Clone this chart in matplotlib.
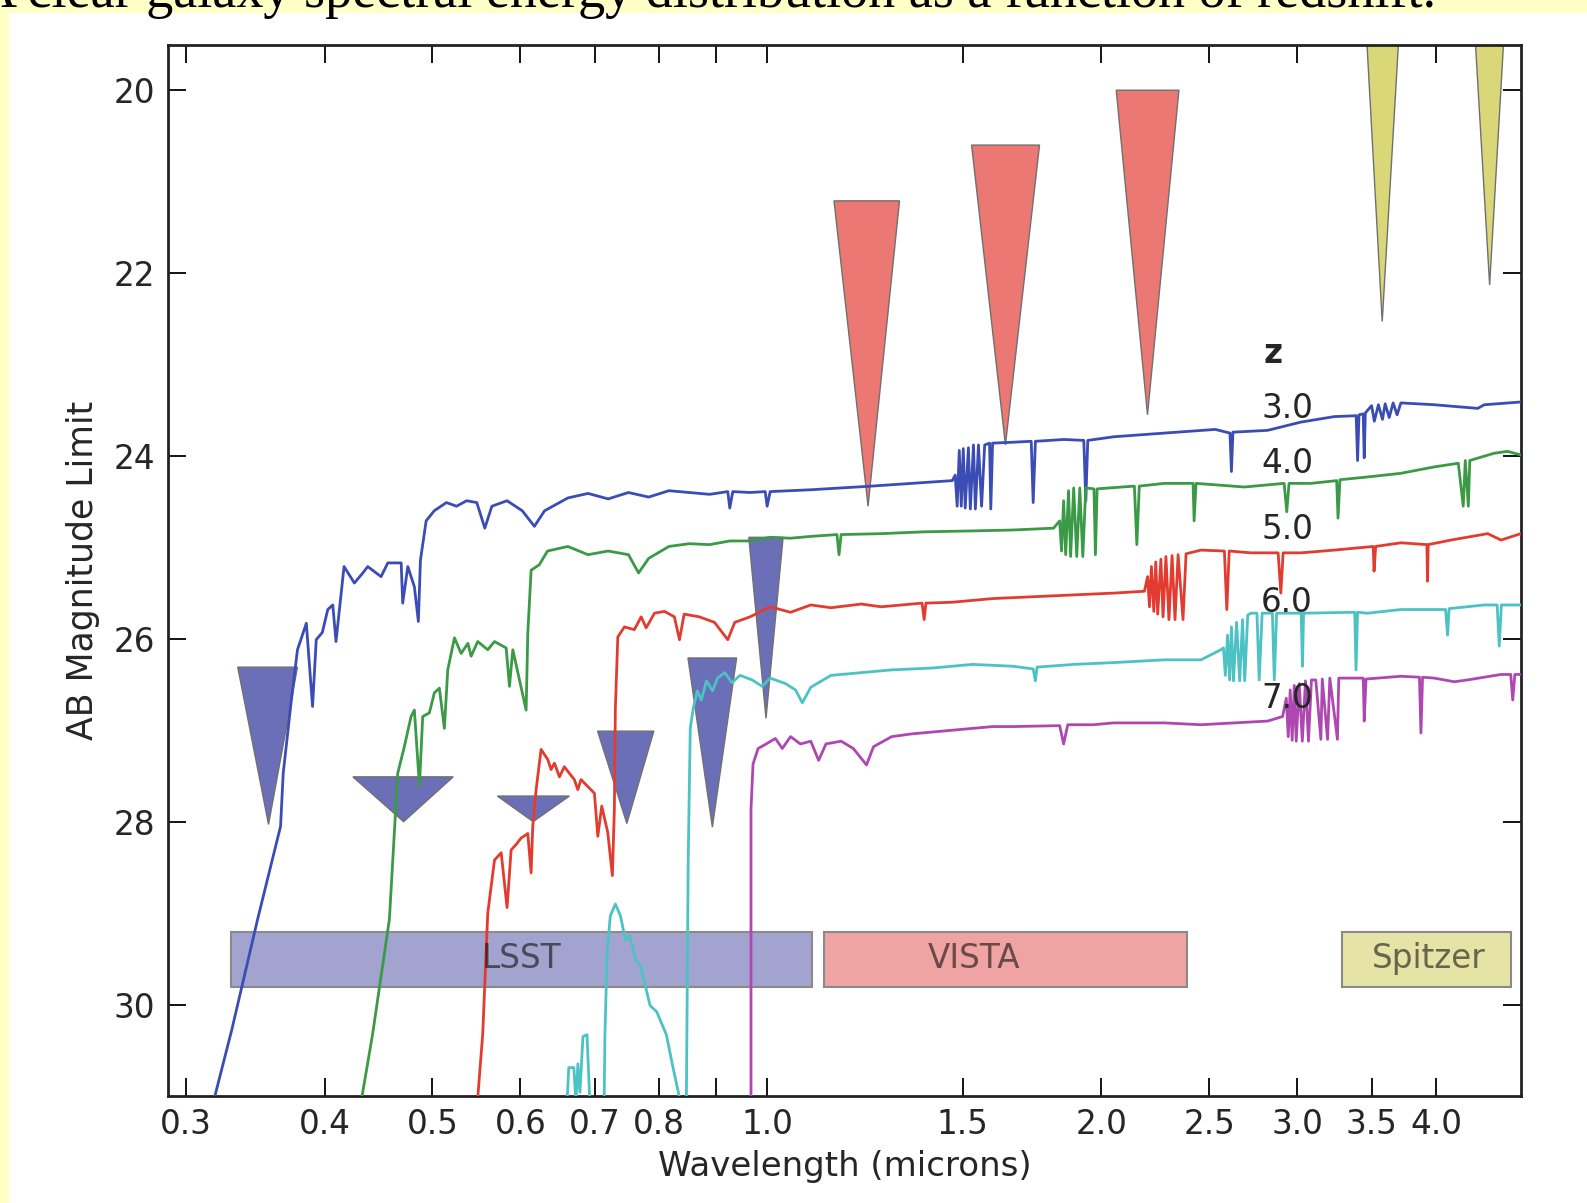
import matplotlib
matplotlib.use("Agg")
import matplotlib.pyplot as plt
from matplotlib.patches import Polygon, Rectangle

# ─────────────────────────────────────────────
# DATA  (wavelength in microns, AB magnitude)
# ─────────────────────────────────────────────
lam_z3 = [
    0.314, 0.330, 0.348, 0.365, 0.367, 0.373, 0.378, 0.385, 0.390, 0.393,
    0.398, 0.4025, 0.4067, 0.4094, 0.4163, 0.4253, 0.4328, 0.4372, 0.4495, 0.4558,
    0.4686, 0.4701, 0.4751, 0.4816, 0.4856, 0.4877, 0.4935, 0.5018, 0.5147, 0.5256,
    0.5367, 0.5481, 0.5573, 0.5655, 0.5836, 0.6023, 0.6176, 0.6307, 0.6618, 0.6901,
    0.7196, 0.7505, 0.7826, 0.8161, 0.8511, 0.8878, 0.922, 0.9258, 0.9316, 0.9654,
    0.9964, 1.0003, 1.0067, 1.050, 1.095, 1.166, 1.242, 1.350, 1.468, 1.477,
    1.483, 1.4895, 1.4957, 1.5019, 1.508, 1.518, 1.524, 1.534, 1.540, 1.550,
    1.560, 1.570, 1.586, 1.590, 1.596, 1.665, 1.729, 1.736, 1.744, 1.849,
    1.928, 1.936, 1.944, 2.053, 2.279, 2.532, 2.610, 2.618, 2.626, 2.822,
    3.023, 3.239, 3.390, 3.400, 3.410, 3.440, 3.447, 3.455, 3.50, 3.52,
    3.55, 3.58, 3.60, 3.63, 3.66, 3.69, 3.719, 3.985, 4.361, 4.421,
    4.769]
mag_z3 = [
    31.3, 30.27, 29.07, 28.05, 27.47, 26.70, 26.12, 25.83, 26.74, 26.01,
    25.93, 25.68, 25.63, 26.03, 25.21, 25.39, 25.28, 25.21, 25.32, 25.17,
    25.17, 25.61, 25.21, 25.43, 25.81, 25.14, 24.71, 24.60, 24.51, 24.55,
    24.49, 24.51, 24.79, 24.55, 24.49, 24.60, 24.77, 24.60, 24.46, 24.41,
    24.47, 24.40, 24.45, 24.38, 24.40, 24.42, 24.39, 24.57, 24.39, 24.40,
    24.39, 24.55, 24.39, 24.38, 24.37, 24.35, 24.33, 24.30, 24.27, 24.21,
    24.55, 23.94, 24.55, 23.92, 24.57, 23.91, 24.58, 23.88, 24.58, 23.88,
    24.55, 23.88, 23.86, 24.58, 23.86, 23.85, 23.84, 24.51, 23.84, 23.82,
    23.83, 24.49, 23.83, 23.79, 23.75, 23.71, 23.75, 24.17, 23.74, 23.72,
    23.63, 23.57, 23.56, 24.05, 23.55, 23.54, 24.02, 23.53, 23.45, 23.62,
    23.44, 23.60, 23.43, 23.58, 23.42, 23.55, 23.42, 23.44, 23.48, 23.44,
    23.41]

lam_z4 = [
    0.428, 0.4416, 0.4573, 0.4653, 0.4717, 0.4783, 0.4816, 0.4867, 0.4900, 0.4968,
    0.5020, 0.5072, 0.5125, 0.5161, 0.5233, 0.5306, 0.5381, 0.5417, 0.5492, 0.5607,
    0.5686, 0.5825, 0.5865, 0.5906, 0.6071, 0.6092, 0.6134, 0.6239, 0.6346, 0.6618,
    0.6901, 0.7196, 0.7505, 0.7664, 0.7826, 0.8161, 0.8511, 0.8878, 0.9258, 0.9654,
    1.0067, 1.050, 1.095, 1.156, 1.161, 1.166, 1.267, 1.385, 1.531, 1.665,
    1.811, 1.834, 1.841, 1.849, 1.857, 1.868, 1.876, 1.888, 1.900, 1.912,
    1.924, 1.936, 1.969, 1.975, 1.982, 2.141, 2.152, 2.163, 2.279, 2.418,
    2.423, 2.433, 2.689, 2.920, 2.936, 2.950, 3.087, 3.256, 3.265, 3.278,
    3.471, 3.719, 3.985, 4.189, 4.232, 4.250, 4.277, 4.290, 4.514, 4.640,
    4.769]
mag_z4 = [
    31.3, 30.33, 29.07, 27.47, 27.18, 26.85, 26.78, 27.61, 26.85, 26.81,
    26.59, 26.54, 26.98, 26.34, 25.99, 26.16, 26.05, 26.19, 26.03, 26.12,
    26.03, 26.10, 26.52, 26.12, 26.78, 25.94, 25.25, 25.19, 25.04, 24.99,
    25.08, 25.04, 25.08, 25.28, 25.12, 24.99, 24.96, 24.97, 24.93, 24.93,
    24.89, 24.90, 24.88, 24.86, 25.08, 24.86, 24.85, 24.83, 24.82, 24.81,
    24.79, 24.71, 25.04, 24.49, 25.08, 24.38, 25.10, 24.35, 25.10, 24.35,
    25.10, 24.35, 24.36, 25.08, 24.36, 24.33, 24.97, 24.33, 24.30, 24.30,
    24.71, 24.30, 24.34, 24.30, 24.61, 24.30, 24.30, 24.27, 24.68, 24.26,
    24.23, 24.19, 24.12, 24.08, 24.55, 24.05, 24.55, 24.05, 23.97, 23.95,
    23.99]

lam_z5 = [
    0.5470, 0.5549, 0.5607, 0.5686, 0.5765, 0.5836, 0.5885, 0.5946, 0.6008, 0.6092,
    0.6134, 0.6155, 0.6198, 0.6262, 0.6349, 0.6393, 0.6438, 0.6505, 0.6571, 0.6709,
    0.6757, 0.6802, 0.6994, 0.7043, 0.7101, 0.7190, 0.7259, 0.7289, 0.7304, 0.7341,
    0.7442, 0.7597, 0.7705, 0.7785, 0.7921, 0.8087, 0.8254, 0.8342, 0.8423, 0.8692,
    0.8969, 0.9220, 0.9355, 0.9654, 1.0067, 1.050, 1.095, 1.142, 1.216, 1.267,
    1.379, 1.385, 1.390, 1.468, 1.596, 1.736, 1.888, 2.053, 2.186, 2.2005,
    2.209, 2.218, 2.229, 2.238, 2.247, 2.262, 2.272, 2.2856, 2.300, 2.315,
    2.329, 2.344, 2.368, 2.383, 2.458, 2.580, 2.593, 2.606, 2.726, 2.884,
    2.900, 2.914, 3.023, 3.239, 3.512, 3.518, 3.530, 3.719, 3.925, 3.930,
    3.936, 4.126, 4.452, 4.577, 4.769]
mag_z5 = [
    31.29, 30.32, 29.00, 28.42, 28.34, 28.94, 28.31, 28.25, 28.18, 28.13,
    28.56, 28.05, 27.65, 27.21, 27.32, 27.43, 27.36, 27.51, 27.40, 27.54,
    27.65, 27.54, 27.69, 28.16, 27.83, 28.12, 28.59, 27.86, 26.76, 25.98,
    25.87, 25.90, 25.76, 25.88, 25.72, 25.70, 25.76, 26.01, 25.73, 25.76,
    25.82, 26.01, 25.82, 25.76, 25.65, 25.71, 25.63, 25.66, 25.62, 25.65,
    25.61, 25.79, 25.61, 25.60, 25.56, 25.54, 25.52, 25.50, 25.48, 25.32,
    25.65, 25.21, 25.70, 25.16, 25.73, 25.13, 25.76, 25.10, 25.79, 25.09,
    25.79, 25.08, 25.79, 25.07, 25.03, 25.04, 25.68, 25.04, 25.06, 25.06,
    25.50, 25.06, 25.06, 25.03, 24.99, 25.26, 24.99, 24.95, 24.97, 25.37,
    24.97, 24.92, 24.85, 24.92, 24.85]

lam_z6 = [
    0.6604, 0.6632, 0.6702, 0.6730, 0.6758, 0.6787, 0.6830, 0.6887, 0.6931, 0.7033,
    0.7137, 0.7148, 0.7180, 0.7228, 0.7304, 0.7381, 0.7460, 0.7522, 0.7619, 0.7697,
    0.7848, 0.7958, 0.8118, 0.8231, 0.8336, 0.8405, 0.8459, 0.8494, 0.8530, 0.8583,
    0.8656, 0.8728, 0.8821, 0.8933, 0.9026, 0.9163, 0.9299, 0.9457, 0.9697, 0.9902,
    1.0067, 1.039, 1.061, 1.076, 1.095, 1.142, 1.216, 1.295, 1.408, 1.531,
    1.664, 1.736, 1.744, 1.750, 1.888, 2.053, 2.279, 2.458, 2.561, 2.575,
    2.585, 2.597, 2.608, 2.618, 2.629, 2.646, 2.663, 2.679, 2.691, 2.708,
    2.726, 2.760, 2.773, 2.790, 2.850, 2.861, 2.875, 3.025, 3.033, 3.040,
    3.380, 3.389, 3.400, 3.471, 3.719, 3.985, 4.080, 4.097, 4.110, 4.421,
    4.540, 4.560, 4.580, 4.769]
mag_z6 = [
    31.13, 30.69, 30.69, 31.07, 30.65, 30.96, 30.35, 30.33, 31.13, 31.29,
    31.0, 30.33, 29.43, 29.03, 28.90, 29.03, 29.30, 29.25, 29.52, 29.58,
    30.01, 30.08, 30.33, 30.69, 31.0, 31.29, 31.29, 28.42, 26.98, 26.76,
    26.57, 26.67, 26.46, 26.57, 26.43, 26.37, 26.48, 26.40, 26.45, 26.52,
    26.43, 26.49, 26.56, 26.70, 26.53, 26.40, 26.37, 26.34, 26.32, 26.28,
    26.30, 26.33, 26.46, 26.31, 26.28, 26.26, 26.23, 26.23, 26.12, 26.10,
    26.40, 25.96, 26.45, 25.87, 26.46, 25.82, 26.46, 25.79, 26.46, 25.74,
    25.72, 25.72, 26.45, 25.72, 25.72, 26.45, 25.72, 25.72, 26.30, 25.72,
    25.71, 26.34, 25.71, 25.72, 25.68, 25.68, 25.68, 25.96, 25.67, 25.63,
    25.63, 26.08, 25.63, 25.63]

lam_z7 = [
    0.9674, 0.9674, 0.9715, 0.9818, 0.9984, 1.0175, 1.0323, 1.050, 1.0718, 1.095,
    1.113, 1.130, 1.166, 1.196, 1.229, 1.247, 1.295, 1.350, 1.468, 1.596,
    1.664, 1.834, 1.849, 1.865, 1.966, 2.050, 2.279, 2.458, 2.634, 2.822,
    2.911, 2.933, 2.945, 2.957, 2.969, 2.982, 2.994, 3.013, 3.032, 3.052,
    3.071, 3.090, 3.118, 3.151, 3.160, 3.195, 3.210, 3.261, 3.270, 3.440,
    3.447, 3.460, 3.719, 3.865, 3.877, 3.890, 3.985, 4.154, 4.270, 4.577,
    4.670, 4.689, 4.710, 4.769]
mag_z7 = [
    31.29, 27.87, 27.37, 27.20, 27.15, 27.09, 27.20, 27.07, 27.15, 27.12,
    27.33, 27.15, 27.12, 27.20, 27.38, 27.18, 27.07, 27.04, 27.00, 26.96,
    26.96, 26.95, 27.15, 26.94, 26.94, 26.92, 26.92, 26.94, 26.92, 26.90,
    26.85, 26.65, 27.07, 26.56, 27.11, 26.51, 27.12, 26.49, 27.12, 26.46,
    27.12, 26.45, 26.45, 27.10, 26.44, 27.10, 26.43, 27.10, 26.43, 26.43,
    26.90, 26.44, 26.41, 26.42, 27.03, 26.42, 26.43, 26.47, 26.45, 26.39,
    26.39, 26.67, 26.39, 26.39]

redshifts = ["3.0", "4.0", "5.0", "6.0", "7.0"]
z_label_mag = [23.48, 24.08, 24.80, 25.60, 26.65]

# filter depth wedges: top edge (left..right) and tip
lsst_left = [0.334, 0.424, 0.572, 0.704, 0.849, 0.963]
lsst_right = [0.378, 0.522, 0.664, 0.791, 0.939, 1.034]
lsst_tip_lam = [0.356, 0.471, 0.616, 0.748, 0.893, 0.998]
lsst_top = [26.31, 27.51, 27.72, 27.01, 26.21, 24.89]
lsst_tip = [28.03, 28.00, 28.00, 28.02, 28.06, 26.87]

vista_left = [1.149, 1.528, 2.062]
vista_right = [1.316, 1.759, 2.348]
vista_tip_lam = [1.233, 1.639, 2.200]
vista_top = [21.21, 20.60, 20.00]
vista_tip = [24.55, 23.88, 23.55]

spitzer_left = [3.467, 4.341]
spitzer_right = [3.700, 4.600]
spitzer_tip_lam = [3.578, 4.470]
spitzer_top = [19.5, 19.5]
spitzer_tip = [22.53, 22.13]

# survey coverage bars
surveys = ["LSST", "VISTA", "Spitzer"]
survey_left = [0.3294, 1.125, 3.291]
survey_right = [1.097, 2.387, 4.67]
survey_label_lam = [0.601, 1.537, 3.942]

xticks = [0.3, 0.4, 0.5, 0.6, 0.7, 0.8, 0.9, 1.0, 1.5, 2.0, 2.5, 3.0, 3.5, 4.0]
xticklabels = ["0.3", "0.4", "0.5", "0.6", "0.7", "0.8", "", "1.0",
               "1.5", "2.0", "2.5", "3.0", "3.5", "4.0"]
yticks = [20, 22, 24, 26, 28, 30]

# ─────────────────────────────────────────────
# STYLE
# ─────────────────────────────────────────────
LINE_COLORS = ["#3b4cb4", "#3a9a45", "#e23c30", "#4cc2c4", "#ae48b0"]
WEDGE_COLORS = {"lsst": "#6b6fb8", "vista": "#eb7872", "spitzer": "#dad778"}
BAR_COLORS = ["#a3a3d0", "#efa3a3", "#e5e3a5"]
FS = 23.5
TEXT_C = "#262626"

fig = plt.figure(figsize=(15.87, 12.03), dpi=100)
ax = fig.add_axes([0.1058, 0.0890, 0.8526, 0.8740])

# slide background remnants (title line cut off by the screenshot)
fig.patches.append(Rectangle((0, 1 - 13 / 1203), 1, 13 / 1203, transform=fig.transFigure,
                             facecolor="#ffffc6", edgecolor="none", zorder=0))
fig.patches.append(Rectangle((0, 0), 9 / 1587, 1, transform=fig.transFigure,
                             facecolor="#ffffc6", edgecolor="none", zorder=0))
fig.text(-0.014, 1 - 7 / 1203,
         "A clear galaxy spectral energy distribution as a function of redshift.",
         family="Liberation Serif", fontsize=39, va="baseline", ha="left", color="black")

# survey bars
for name, l, r, xl, c in zip(surveys, survey_left, survey_right, survey_label_lam, BAR_COLORS):
    ax.add_patch(Rectangle((l, 29.21), r - l, 0.60, facecolor=c, edgecolor="#8a8a8a",
                           lw=1.5, zorder=2))
    ax.text(xl, 29.50, name, ha="center", va="center", fontsize=FS, color="k",
            alpha=0.55, zorder=5)

# wedges
def draw_wedges(left, right, tip_lam, top, tip, color):
    for l, r, tl, t, b in zip(left, right, tip_lam, top, tip):
        ax.add_patch(Polygon([(l, t), (r, t), (tl, b)], closed=True, facecolor=color,
                             edgecolor="#707070", lw=1.0, zorder=2))

draw_wedges(lsst_left, lsst_right, lsst_tip_lam, lsst_top, lsst_tip, WEDGE_COLORS["lsst"])
draw_wedges(vista_left, vista_right, vista_tip_lam, vista_top, vista_tip, WEDGE_COLORS["vista"])
draw_wedges(spitzer_left, spitzer_right, spitzer_tip_lam, spitzer_top, spitzer_tip,
            WEDGE_COLORS["spitzer"])

# spectra
spectra = [(lam_z3, mag_z3), (lam_z4, mag_z4), (lam_z5, mag_z5),
           (lam_z6, mag_z6), (lam_z7, mag_z7)]
for (lam, mag), c in zip(spectra, LINE_COLORS):
    ax.plot(lam, mag, color=c, lw=2.0, zorder=3)

# redshift labels
ax.text(2.80, 22.88, "z", fontsize=FS, fontweight="bold", color=TEXT_C,
        ha="left", va="center", zorder=6)
for lab, m in zip(redshifts, z_label_mag):
    ax.text(2.784, m, lab, fontsize=FS, color=TEXT_C, ha="left", va="center", zorder=6)

# axes
ax.set_xscale("log")
ax.set_xlim(0.289, 4.77)
ax.set_ylim(31.0, 19.5)
ax.set_xticks(xticks)
ax.set_xticklabels(xticklabels)
ax.minorticks_off()
ax.set_yticks(yticks)
ax.tick_params(direction="in", top=True, right=True, length=13, width=1.3,
               labelsize=FS, labelcolor=TEXT_C, pad=9)
for sp in ax.spines.values():
    sp.set_linewidth(2.0)
    sp.set_color("#222222")
ax.set_xlabel("Wavelength (microns)", fontsize=FS + 1, color=TEXT_C, labelpad=6)
ax.set_ylabel("AB Magnitude Limit", fontsize=FS + 1.5, color=TEXT_C, labelpad=10)

fig.savefig("out.png", dpi=100)
